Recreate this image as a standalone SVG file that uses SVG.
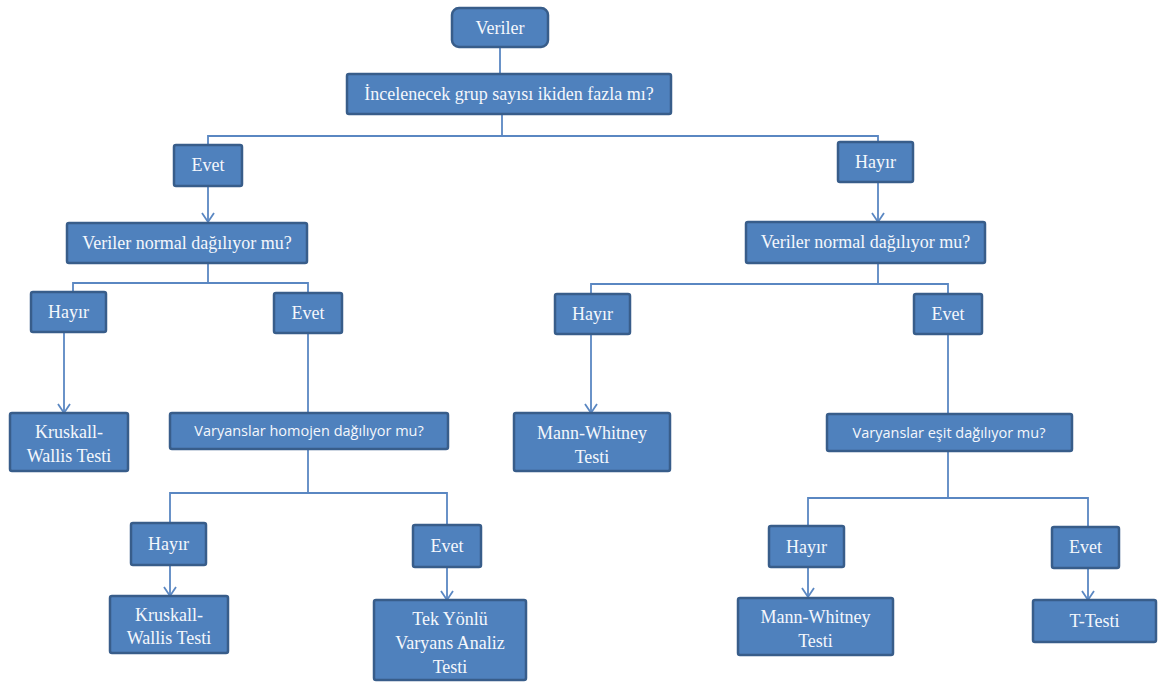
<svg xmlns="http://www.w3.org/2000/svg" width="1158" height="682" viewBox="0 0 1158 682">
<defs>
<style>
.box{fill:#4F81BD;stroke:#385D8A;stroke-width:2.5}
.t{fill:#F4F7FC;font-family:"Liberation Serif","Times New Roman",serif;font-size:18px;text-anchor:middle}
.s{fill:#F4F7FC;font-family:"Open Sans","Liberation Sans",sans-serif;font-size:14.5px;text-anchor:middle}
.c{fill:none;stroke:#5A87C2;stroke-width:1.8}
</style>
<marker id="ah" markerUnits="userSpaceOnUse" markerWidth="12" markerHeight="14" refX="10" refY="7" orient="auto" viewBox="0 0 12 14">
<path d="M1,1 L10,7 L1,13" fill="none" stroke="#5A87C2" stroke-width="1.8"/>
</marker>
</defs>
<rect width="1158" height="682" fill="#fff"/>
<g id="connectors">
<line class="c" x1="500" y1="48" x2="500" y2="74"/>
<polyline class="c" points="502,114 502,136"/>
<polyline class="c" points="208,145 208,136 878,136 878,142"/>
<line class="c" x1="208" y1="186" x2="208" y2="222" marker-end="url(#ah)"/>
<line class="c" x1="878" y1="182" x2="878" y2="222" marker-end="url(#ah)"/>
<line class="c" x1="208" y1="263" x2="208" y2="283"/>
<polyline class="c" points="73,292 73,283 308,283 308,293"/>
<line class="c" x1="64" y1="332" x2="64" y2="413" marker-end="url(#ah)"/>
<line class="c" x1="308" y1="333" x2="308" y2="413"/>
<line class="c" x1="308" y1="449" x2="308" y2="493"/>
<polyline class="c" points="170,523 170,493 447,493 447,525"/>
<line class="c" x1="170" y1="565" x2="170" y2="596" marker-end="url(#ah)"/>
<line class="c" x1="447" y1="567" x2="447" y2="600" marker-end="url(#ah)"/>
<line class="c" x1="878" y1="263" x2="878" y2="284"/>
<polyline class="c" points="591,294 591,284 948,284 948,294"/>
<line class="c" x1="591" y1="334" x2="591" y2="413" marker-end="url(#ah)"/>
<line class="c" x1="948" y1="334" x2="948" y2="414"/>
<line class="c" x1="948" y1="451" x2="948" y2="498"/>
<polyline class="c" points="808,526 808,498 1088,498 1088,527"/>
<line class="c" x1="808" y1="567" x2="808" y2="597" marker-end="url(#ah)"/>
<line class="c" x1="1088" y1="568" x2="1088" y2="600" marker-end="url(#ah)"/>
</g>
<g id="n-veriler"><rect class="box" x="452" y="8" width="96" height="39" rx="7"/><text class="t" x="500" y="34">Veriler</text></g>
<g id="n-incelenecek"><rect class="box" x="347" y="74" width="324" height="40" rx="2"/><text class="t" x="509" y="100">İncelenecek grup sayısı ikiden fazla mı?</text></g>
<g id="n-evet1"><rect class="box" x="174" y="145" width="68" height="41" rx="2"/><text class="t" x="208" y="171">Evet</text></g>
<g id="n-hayir1"><rect class="box" x="838" y="142" width="75" height="40" rx="2"/><text class="t" x="875.5" y="168">Hayır</text></g>
<g id="n-normal-l"><rect class="box" x="67" y="223" width="240" height="40" rx="2"/><text class="t" x="187" y="249">Veriler normal dağılıyor mu?</text></g>
<g id="n-normal-r"><rect class="box" x="746" y="222" width="239" height="41" rx="2"/><text class="t" x="865.5" y="248">Veriler normal dağılıyor mu?</text></g>
<g id="n-hayir-l2"><rect class="box" x="31" y="292" width="75" height="40" rx="2"/><text class="t" x="68.5" y="318">Hayır</text></g>
<g id="n-evet-l2"><rect class="box" x="274" y="293" width="68" height="40" rx="2"/><text class="t" x="308" y="319">Evet</text></g>
<g id="n-hayir-r2"><rect class="box" x="555" y="294" width="75" height="40" rx="2"/><text class="t" x="592.5" y="320">Hayır</text></g>
<g id="n-evet-r2"><rect class="box" x="914" y="294" width="68" height="40" rx="2"/><text class="t" x="948" y="320">Evet</text></g>
<g id="n-kruskal1"><rect class="box" x="10" y="413" width="118" height="58" rx="2"/><text class="t" x="69" y="438">Kruskall-</text><text class="t" x="69" y="462">Wallis Testi</text></g>
<g id="n-homojen"><rect class="box" x="170" y="413" width="278" height="36" rx="2"/><text class="s" x="309" y="436">Varyanslar homojen dağılıyor mu?</text></g>
<g id="n-mann1"><rect class="box" x="514" y="413" width="156" height="58" rx="2"/><text class="t" x="592" y="439">Mann-Whitney</text><text class="t" x="592" y="463">Testi</text></g>
<g id="n-esit"><rect class="box" x="827" y="414" width="245" height="37" rx="2"/><text class="s" x="949" y="437.5">Varyanslar eşit dağılıyor mu?</text></g>
<g id="n-hayir-l3"><rect class="box" x="131" y="523" width="75" height="42" rx="2"/><text class="t" x="168.5" y="550">Hayır</text></g>
<g id="n-evet-l3"><rect class="box" x="413" y="525" width="68" height="42" rx="2"/><text class="t" x="447" y="552">Evet</text></g>
<g id="n-hayir-r3"><rect class="box" x="769" y="526" width="75" height="41" rx="2"/><text class="t" x="806.5" y="553">Hayır</text></g>
<g id="n-evet-r3"><rect class="box" x="1052" y="527" width="67" height="41" rx="2"/><text class="t" x="1085.5" y="553">Evet</text></g>
<g id="n-kruskal2"><rect class="box" x="110" y="596" width="118" height="57" rx="2"/><text class="t" x="169" y="621">Kruskall-</text><text class="t" x="169" y="644">Wallis Testi</text></g>
<g id="n-tek"><rect class="box" x="374" y="600" width="152" height="80" rx="2"/><text class="t" x="450" y="625">Tek Yönlü</text><text class="t" x="450" y="649">Varyans Analiz</text><text class="t" x="450" y="673">Testi</text></g>
<g id="n-mann2"><rect class="box" x="738" y="598" width="155" height="57" rx="2"/><text class="t" x="815.5" y="623">Mann-Whitney</text><text class="t" x="815.5" y="647">Testi</text></g>
<g id="n-ttest"><rect class="box" x="1033" y="600" width="123" height="42" rx="2"/><text class="t" x="1094.5" y="627">T-Testi</text></g>
</svg>
